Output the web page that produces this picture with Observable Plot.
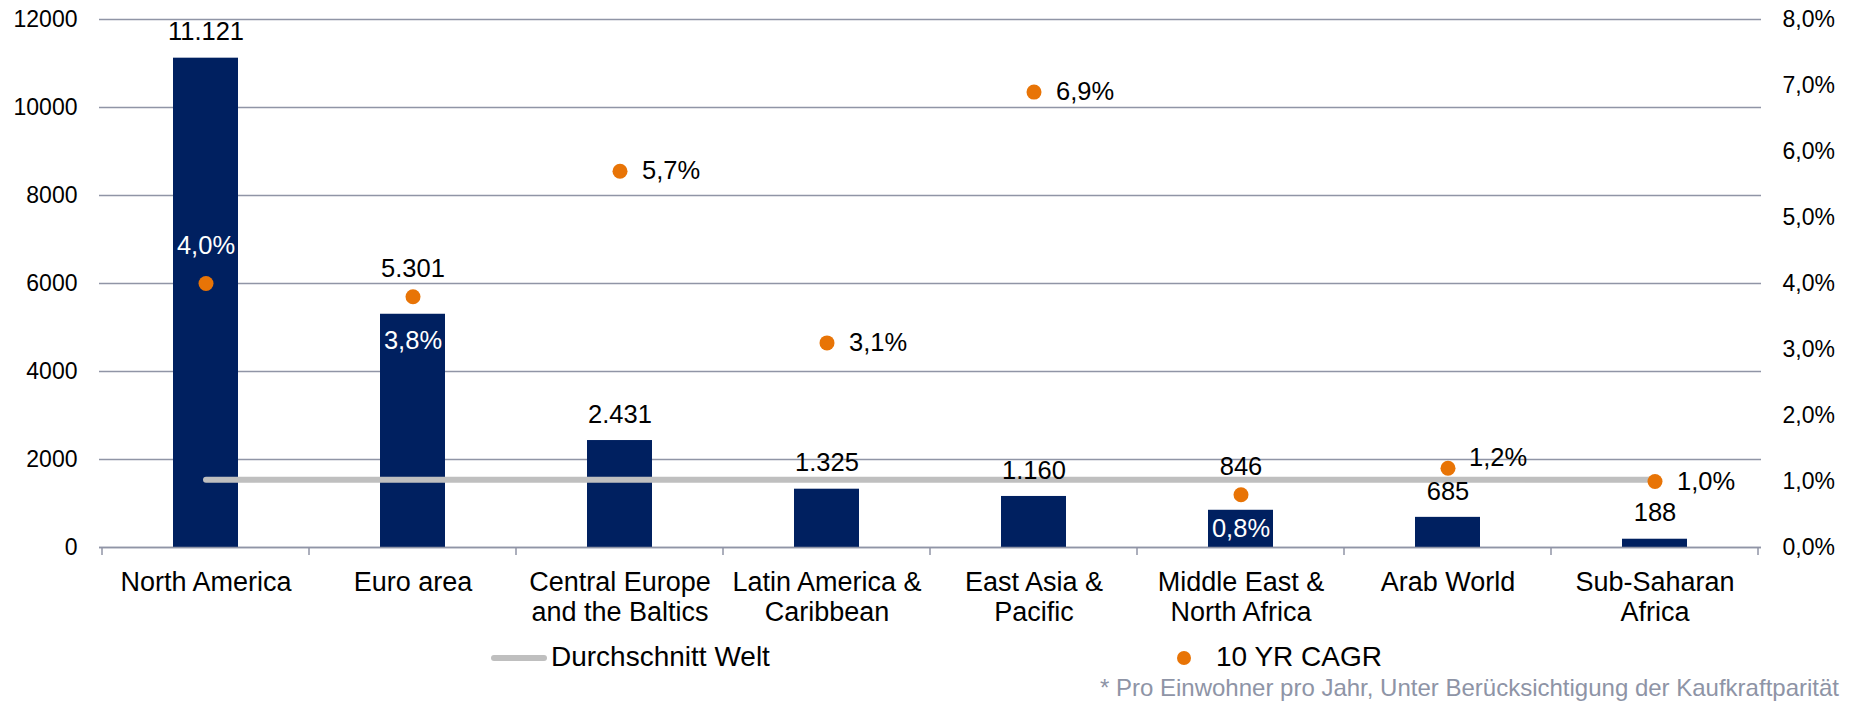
<!DOCTYPE html>
<html>
<head>
<meta charset="utf-8">
<script src="https://cdn.jsdelivr.net/npm/d3@7"></script>
<script src="https://cdn.jsdelivr.net/npm/@observablehq/plot@0.6"></script>
<style>
  html, body { margin: 0; padding: 0; background: #fff; }
  body { font-family: "Liberation Sans", Arial, sans-serif; }
  #wrap { position: relative; width: 1858px; height: 701px; overflow: hidden; background: #fff; }
  #legend { position: absolute; left: 0; top: 640px; width: 1858px; height: 61px; }
  .lg { position: absolute; font-size: 28px; line-height: 28px; color: #000; white-space: nowrap; }
  #foot { position: absolute; right: 19px; top: 37.5px; font-size: 24px; line-height: 20px; color: #8e94a6; white-space: nowrap; }
</style>
</head>
<body>
<div id="wrap">
  <div id="chart"></div>
  <div id="legend"></div>
</div>
<script>
// ---- data ----
const categories = [
  "North America",
  "Euro area",
  "Central Europe\nand the Baltics",
  "Latin America &\nCaribbean",
  "East Asia &\nPacific",
  "Middle East &\nNorth Africa",
  "Arab World",
  "Sub-Saharan\nAfrica"
];
const values = [11121, 5301, 2431, 1325, 1160, 846, 685, 188];
const cagr = [4.0, 3.8, 5.7, 3.1, 6.9, 0.8, 1.2, 1.0];
const worldAverage = 1540;
const leftTicks = [0, 2000, 4000, 6000, 8000, 10000, 12000];
const rightTicks = [0, 1, 2, 3, 4, 5, 6, 7, 8];
const seriesNames = ["Durchschnitt Welt", "10 YR CAGR"];
const footnote = "* Pro Einwohner pro Jahr, Unter Berücksichtigung der Kaufkraftparität";

// ---- styling ----
const navy = "#002060";
const orange = "#e87406";
const gridColor = "#9095a6";
const avgColor = "#bfbfbf";
const font = "'Liberation Sans', Arial, sans-serif";
const labelSize = 25.5;

const leftMax = d3.max(leftTicks);
const rightMax = d3.max(rightTicks);
const k = leftMax / rightMax; // map % onto the left scale

const de = d3.formatLocale({decimal: ",", thousands: ".", grouping: [3], currency: ["", "€"]});
const fmtInt = de.format(",d");
const fmtPct = v => de.format(".1f")(v) + "%";

const rows = categories.map((c, i) => ({c, v: values[i], g: cagr[i], gy: cagr[i] * k, i}));

// label placement groups for the CAGR labels (by category index)
const labelGroups = [
  {idx: [0], dx: 0, dy: -38, fill: "#fff", anchor: "middle"},        // above dot, inside bar
  {idx: [1], dx: 0, dy: 44, fill: "#fff", anchor: "middle"},         // below dot, inside bar
  {idx: [5], dx: 0, dy: 34, fill: "#fff", anchor: "middle"},         // below dot, inside bar
  {idx: [2, 3, 4, 7], dx: 22, dy: 0, fill: "#000", anchor: "start"}, // right of dot
  {idx: [6], dx: 21, dy: -10, fill: "#000", anchor: "start"}         // right, slightly up
];
// value labels lifted above the dot where the dot sits just over the bar
const liftedValueIdx = [1, 5];

function bandTicks(index, scales, values, dims) {
  const x = scales.x, y = scales.y;
  const n = categories.length;
  let edges;
  if (typeof x.bandwidth === "function") {
    const bw = x.bandwidth();
    const step = x(categories[1]) - x(categories[0]);
    edges = categories.map(c => x(c) + bw / 2 - step / 2);
    edges.push(x(categories[n - 1]) + bw / 2 + step / 2);
  } else {
    const w = (dims.width - dims.marginLeft - dims.marginRight) / n;
    edges = d3.range(n + 1).map(i => dims.marginLeft + i * w);
  }
  const y0 = y(0);
  const g = d3.create("svg:g");
  for (const e of edges) {
    g.append("line").attr("x1", e).attr("x2", e).attr("y1", y0).attr("y2", y0 + 8)
      .attr("stroke", gridColor).attr("stroke-width", 1.5);
  }
  return g.node();
}

const cagrLabelMarks = labelGroups.map(gr =>
  Plot.text(rows.filter(d => gr.idx.includes(d.i)), {
    x: "c", y: "gy", text: d => fmtPct(d.g), dx: gr.dx, dy: gr.dy,
    fontSize: labelSize, fill: gr.fill, textAnchor: gr.anchor, lineAnchor: "middle"
  })
);

const chart = Plot.plot({
  width: 1858,
  height: 640,
  marginTop: 19,
  marginBottom: 93,
  marginLeft: 99,
  marginRight: 97,
  style: {fontFamily: font, background: "white", overflow: "visible", color: "#000"},
  x: {domain: categories, paddingInner: 0.687, paddingOuter: 0.3435, axis: null},
  y: {domain: [0, leftMax], axis: null},
  marks: [
    Plot.gridY(leftTicks, {stroke: gridColor, strokeOpacity: 1, strokeWidth: 1.5}),
    Plot.barY(rows, {x: "c", y: "v", fill: navy}),
    Plot.ruleY([0], {stroke: gridColor, strokeWidth: 1.5}),
    bandTicks,
    Plot.line(rows, {x: "c", y: () => worldAverage, stroke: avgColor, strokeWidth: 6, strokeLinecap: "round"}),
    Plot.dot(rows, {x: "c", y: "gy", r: 7.5, fill: orange, stroke: "none"}),
    // bar value labels
    Plot.text(rows.filter(d => !liftedValueIdx.includes(d.i)), {
      x: "c", y: "v", dy: -26, text: d => fmtInt(d.v),
      fontSize: labelSize, fill: "#000", lineAnchor: "middle", textAnchor: "middle"
    }),
    Plot.text(rows.filter(d => liftedValueIdx.includes(d.i)), {
      x: "c", y: "gy", dy: -28, text: d => fmtInt(d.v),
      fontSize: labelSize, fill: "#000", lineAnchor: "middle", textAnchor: "middle"
    }),
    ...cagrLabelMarks,
    // category labels
    Plot.text(categories, {
      x: d => d, y: () => 0, text: d => d, dy: 22, lineAnchor: "top",
      fontSize: 27, lineHeight: 1.11, fill: "#000", textAnchor: "middle"
    }),
    Plot.axisY({anchor: "left", ticks: leftTicks, tickSize: 0, tickPadding: 22, fontSize: 23, tickFormat: d => String(d), label: null}),
    Plot.axisY({anchor: "right", ticks: rightTicks.map(t => t * k), tickSize: 0, tickPadding: 21, fontSize: 23, tickFormat: d => fmtPct(d / k), label: null})
  ]
});
document.getElementById("chart").appendChild(chart);

// ---- legend & footnote ----
const legend = document.getElementById("legend");
legend.innerHTML = `
  <svg style="position:absolute;left:488px;top:12px" width="64" height="12">
    <line x1="6" y1="6" x2="56" y2="6" stroke="${avgColor}" stroke-width="6" stroke-linecap="round"/>
  </svg>
  <div class="lg" style="left:551px;top:2.5px">${seriesNames[0]}</div>
  <svg style="position:absolute;left:1174px;top:8px" width="20" height="20">
    <circle cx="10" cy="10" r="7" fill="${orange}"/>
  </svg>
  <div class="lg" style="left:1216px;top:2.5px">${seriesNames[1]}</div>
  <div id="foot">${footnote}</div>
`;
</script>
</body>
</html>
